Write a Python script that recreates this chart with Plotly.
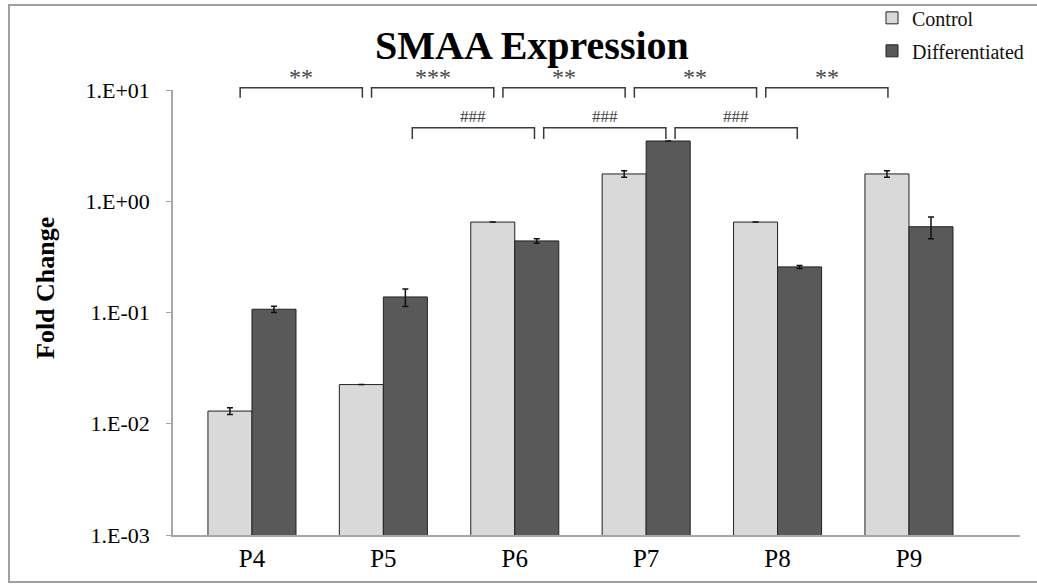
import plotly.graph_objects as go

# ---- data -------------------------------------------------------------
passages = ["P4", "P5", "P6", "P7", "P8", "P9"]
control = [0.013, 0.0225, 0.65, 1.76, 0.65, 1.76]
control_err = [0.0009, 0.0, 0.0, 0.12, 0.0, 0.12]
differentiated = [0.107, 0.138, 0.44, 3.48, 0.257, 0.59]
differentiated_err = [0.007, 0.025, 0.02, 0.0, 0.008, 0.13]

tick_values = [0.001, 0.01, 0.1, 1, 10]
tick_labels = ["1.E-03", "1.E-02", "1.E-01", "1.E+00", "1.E+01"]

# significance brackets: (first passage index, label)
control_vs_next = [(0, "**"), (1, "***"), (2, "**"), (3, "**"), (4, "**")]
diff_vs_next = [(1, "###"), (2, "###"), (3, "###")]

# ---- styling ----------------------------------------------------------
W, H = 1037, 588
L, R, T, B = 173, 17, 90, 53
PW, PH = W - L - R, H - T - B
Y_MIN_EXP, Y_MAX_EXP = -3, 1
SERIF = "Liberation Serif, Times New Roman, serif"
CTRL_COLOR = "#d9d9d9"
DIFF_COLOR = "#595959"
BRACKET_COLOR = "#3a3a3a"

x_pos = list(range(len(passages)))


def exp_to_paper(e):
    return (e - Y_MIN_EXP) / (Y_MAX_EXP - Y_MIN_EXP)


fig = go.Figure()
fig.add_trace(go.Bar(
    x=x_pos, y=control, name="Control",
    marker=dict(color=CTRL_COLOR, line=dict(color="#222222", width=1)),
    error_y=dict(type="data", array=control_err, visible=True,
                 color="#111111", thickness=1.5, width=3),
    legendgroup="c",
))
fig.add_trace(go.Bar(
    x=x_pos, y=differentiated, name="Differentiated",
    marker=dict(color=DIFF_COLOR, line=dict(color="#222222", width=1)),
    error_y=dict(type="data", array=differentiated_err, visible=True,
                 color="#111111", thickness=1.5, width=3),
    legendgroup="d",
))

shapes = []
annotations = []


def add_bracket(x0, x1, top_exp, tip_exp, label, size, shift):
    yt, yb = exp_to_paper(top_exp), exp_to_paper(tip_exp)
    shapes.append(dict(
        type="path", xref="x", yref="paper",
        path=f"M {x0},{yb} L {x0},{yt} L {x1},{yt} L {x1},{yb}",
        line=dict(color=BRACKET_COLOR, width=1.5),
    ))
    annotations.append(dict(
        x=(x0 + x1) / 2, y=yt, xref="x", yref="paper",
        text=label, showarrow=False, xanchor="center", yanchor="bottom",
        yshift=shift, font=dict(family=SERIF, size=size, color="#444444"),
    ))


for i, lab in control_vs_next:
    add_bracket(i - 0.09, i + 0.84, 1.02, 0.93, lab, 24, -4)
for i, lab in diff_vs_next:
    add_bracket(i + 0.22, i + 1.15, 0.66, 0.56, lab, 17, 0)

annotations.append(dict(
    text="<b>Fold Change</b>", textangle=-90,
    xref="paper", yref="paper", x=(45 - L) / PW, y=(H - B - 288) / PH,
    xanchor="center", yanchor="middle", showarrow=False,
    font=dict(family=SERIF, size=26, color="black"),
))

# outer chart frame
shapes.append(dict(
    type="rect", xref="paper", yref="paper",
    x0=(9 - L) / PW, x1=(1060 - L) / PW,
    y0=-(582 - (H - B)) / PH, y1=1 + (T - 5) / PH,
    line=dict(color="#a0a0a0", width=2), layer="below",
))

fig.update_layout(
    width=W, height=H,
    margin=dict(l=L, r=R, t=T, b=B, autoexpand=False),
    paper_bgcolor="white", plot_bgcolor="white",
    barmode="group", bargap=0.33, bargroupgap=0,
    title=dict(text="<b>SMAA Expression</b>", x=0.513, xanchor="center",
               y=1 - 45 / H, yanchor="middle", yref="container",
               font=dict(family=SERIF, size=40, color="black")),
    legend=dict(x=(872 - L) / PW, y=1.206, xanchor="left", yanchor="top",
                font=dict(family=SERIF, size=20, color="#111111"),
                tracegroupgap=4, bgcolor="rgba(0,0,0,0)", itemwidth=30),
    showlegend=True,
    xaxis=dict(
        range=[-0.601, 5.845], tickvals=x_pos, ticktext=passages,
        showgrid=False, zeroline=False, showline=True,
        linecolor="#a6a6a6", linewidth=1.5, ticks="",
        tickfont=dict(family=SERIF, size=25, color="black"),
    ),
    yaxis=dict(
        type="log", range=[Y_MIN_EXP, Y_MAX_EXP],
        tickvals=tick_values, ticktext=tick_labels,
        showgrid=False, zeroline=False, showline=True,
        linecolor="#a6a6a6", linewidth=1.5, ticks="outside", ticklen=5,
        tickcolor="#a6a6a6", ticklabelstandoff=12,
        tickfont=dict(family=SERIF, size=22, color="black"),
    ),
    shapes=shapes,
    annotations=annotations,
)

fig.write_html("out.html")
